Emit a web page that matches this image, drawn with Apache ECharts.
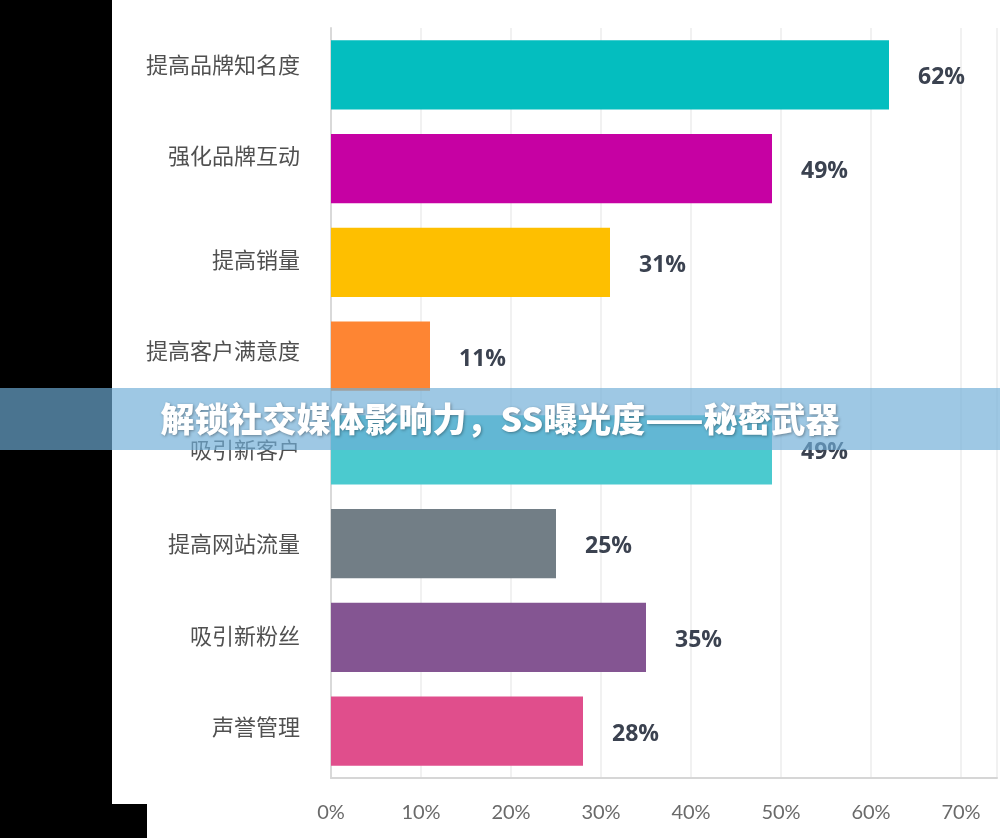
<!DOCTYPE html>
<html><head><meta charset="utf-8">
<script src="https://cdn.jsdelivr.net/npm/echarts@6/dist/echarts.min.js"></script>
<style>html,body{margin:0;padding:0;background:#fff;}#c{width:1000px;height:838px;}</style>
</head><body><div id="c"></div>
<script>
const categories = ['提高品牌知名度','强化品牌互动','提高销量','提高客户满意度','吸引新客户','提高网站流量','吸引新粉丝','声誉管理'];
const values = [62, 49, 31, 11, 49, 25, 35, 28];
const barColors = ['#04BEBF','#C601A3','#FEBF00','#FE8533','#4BCACF','#727E86','#845592','#E04E8C'];
const tickValues = [0,10,20,30,40,50,60,70];
const title = '解锁社交媒体影响力，SS曝光度——秘密武器';

const chart = echarts.init(document.getElementById('c'));

// upward nudges of the category labels, as seen in the reference
const lift = [10, 13, 3, 5, 0, 0, 2, 4];
const rich = {};
lift.forEach((d, i) => {
  rich['l' + i] = { fontSize: 22, color: '#505050', fontFamily: '"Noto Sans CJK SC", sans-serif',
    padding: [0, 0, d * 2, 0] };
});

chart.setOption({
  animation: false,
  backgroundColor: '#ffffff',
  grid: { left: 331, right: 0, top: 28, bottom: 60, containLabel: false },
  xAxis: {
    type: 'value', min: 0, max: 74, interval: 10,
    axisLine: { show: true, lineStyle: { color: '#d6d6d6', width: 2 } },
    axisTick: { show: false },
    splitLine: { show: true, lineStyle: { color: '#ececec', width: 1.5 } },
    axisLabel: {
      margin: 25, fontSize: 20, color: '#6a6a6a', fontFamily: 'Lato, "Noto Sans", sans-serif',
      formatter: v => tickValues.indexOf(v) >= 0 ? v + '%' : ''
    }
  },
  yAxis: {
    type: 'category', inverse: true, data: categories,
    axisLine: { show: true, lineStyle: { color: '#d9d9d9', width: 2 } },
    axisTick: { show: false },
    axisLabel: {
      margin: 31, fontSize: 22, color: '#505050', fontFamily: '"Noto Sans CJK SC", sans-serif',
      formatter: (v, i) => '{l' + categories.indexOf(v) + '|' + v + '}',
      rich: rich
    }
  },
  series: [{
    type: 'bar',
    data: values.map((v, i) => ({ value: v, itemStyle: { color: barColors[i] } })),
    barCategoryGap: '26%',
    label: {
      show: true, position: 'right', distance: 29, offset: [0, 3],
      formatter: '{c}%', fontSize: 23, fontWeight: 'bold', color: '#3b4250',
      fontFamily: '"Open Sans", "Noto Sans", sans-serif'
    }
  }],
  graphic: [
    { type: 'rect', z: 100, shape: { x: 0, y: 0, width: 112, height: 838 }, style: { fill: '#000' } },
    { type: 'rect', z: 100, shape: { x: 0, y: 804, width: 147, height: 34 }, style: { fill: '#000' } },
    { type: 'rect', z: 101, shape: { x: 0, y: 388, width: 1000, height: 62 }, style: { fill: 'rgba(110,173,215,0.67)' } },
    { type: 'text', z: 102, x: 500, y: 419,
      style: { text: title, fill: '#ffffff', fontSize: 34, fontWeight: 900,
        fontFamily: '"Noto Sans CJK SC", sans-serif', align: 'center', verticalAlign: 'middle',
        textShadowColor: 'rgba(0,0,0,0.35)', textShadowBlur: 3, textShadowOffsetX: 1, textShadowOffsetY: 1 } }
  ]
});
</script></body></html>
